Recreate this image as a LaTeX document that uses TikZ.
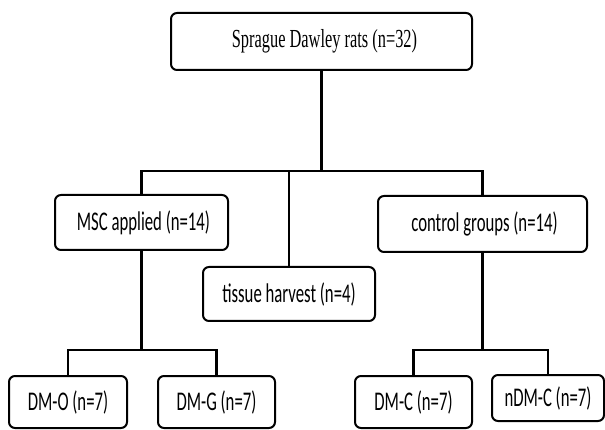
\documentclass[tikz,border=0pt]{standalone}
\usepackage{fontspec}
\setmainfont{Liberation Serif}[FakeStretch=0.63]
\newfontfamily\bodyfont{Carlito}[FakeStretch=0.62]
\usetikzlibrary{calc}
\tikzset{>=latex}
\tikzset{
  grpbox/.style={draw, line width=2pt, rounded corners=6pt, inner sep=0pt,
    font=\bodyfont\fontsize{27}{30}\selectfont},
  link/.style={line width=2.2pt}
}

\begin{document}
\begin{tikzpicture}[x=1pt,y=-1pt]
    \useasboundingbox (0,0) rectangle (605,430);

    \node[grpbox, font=\fontsize{26}{30}\selectfont, minimum width=301pt, minimum height=57pt] (rats) at (321.5,41.5) {\hspace*{6pt}Sprague Dawley rats (n=32)};
    \node[grpbox, minimum width=173pt, minimum height=55pt] (msc) at (141.5,222.5) {\hspace*{4pt}MSC applied (n=14)};
    \node[grpbox, minimum width=172pt, minimum height=54pt] (tissue) at (289,294) {tissue harvest (n=4)};
    \node[grpbox, minimum width=209pt, minimum height=56pt] (ctrl) at (482.5,224) {\hspace*{4pt}control groups (n=14)};
    \node[grpbox, minimum width=118pt, minimum height=52pt] (dmo) at (68,402) {DM-O (n=7)};
    \node[grpbox, minimum width=117pt, minimum height=52pt] (dmg) at (216.5,402) {DM-G (n=7)};
    \node[grpbox, minimum width=117pt, minimum height=52pt] (dmc) at (413.5,402) {DM-C (n=7)};
    \node[grpbox, minimum width=112pt, minimum height=46pt] (ndmc) at (548,398) {nDM-C (n=7)};

    \coordinate (bar) at (0,171);
    \coordinate (lbar) at (0,350);

    \draw[link] (rats.south) -- (rats.south |- bar);
    \draw[link] (msc.north) -- (msc.north |- bar) -- (ctrl.north |- bar) -- (ctrl.north);
    \draw[link] (tissue.north) -- (tissue.north |- bar);

    \draw[link] (msc.south) -- (msc.south |- lbar);
    \draw[link] (dmo.north) -- (dmo.north |- lbar) -- (dmg.north |- lbar) -- (dmg.north);
    \draw[link] (ctrl.south) -- (ctrl.south |- lbar);
    \draw[link] (dmc.north) -- (dmc.north |- lbar) -- (ndmc.north |- lbar) -- (ndmc.north);
\end{tikzpicture}
\end{document}
